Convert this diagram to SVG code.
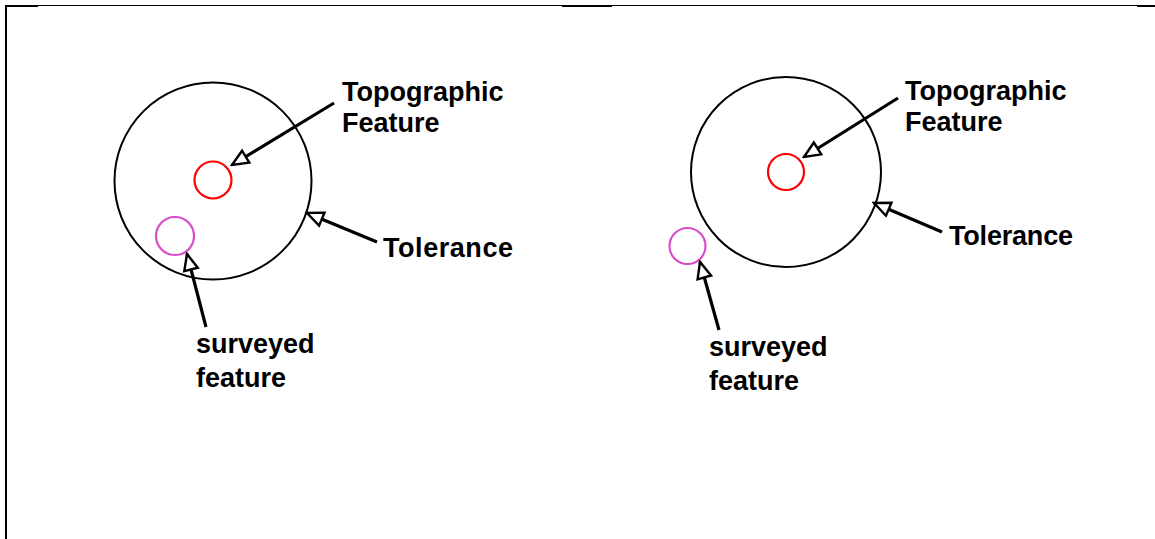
<svg xmlns="http://www.w3.org/2000/svg" width="1155" height="539" viewBox="0 0 1155 539">
<style>
.bg{fill:#ffffff}
.frame{stroke:#000;fill:none}
.tol{fill:none;stroke:#000;stroke-width:2}
.topo{fill:none;stroke:#ff0000;stroke-width:2.2}
.surv{fill:none;stroke:#d94cc8;stroke-width:2.2}
.lbl{font-family:"Liberation Sans",Arial,sans-serif;font-weight:bold;font-size:27px;fill:#000}
.arr{stroke:#000;stroke-width:3.2;fill:none;marker-end:url(#head)}
</style>
<defs>
<marker id="head" viewBox="0 0 20 18" refX="18" refY="9" markerWidth="20" markerHeight="18" markerUnits="userSpaceOnUse" orient="auto">
<path d="M2,2 L18,9 L2,16 Z" fill="#fff" stroke="#000" stroke-width="2.4" stroke-linejoin="miter"/>
</marker>
</defs>
<rect class="bg" x="0" y="0" width="1155" height="539"/>
<g id="frame">
<line class="frame" x1="5" y1="5.5" x2="1155" y2="5.5" stroke-width="1"/>
<line class="frame" x1="5" y1="6" x2="38" y2="6" stroke-width="2"/>
<line class="frame" x1="562" y1="6" x2="612" y2="6" stroke-width="2"/>
<line class="frame" x1="1137" y1="6" x2="1155" y2="6" stroke-width="2"/>
<line class="frame" x1="6" y1="5" x2="6" y2="539" stroke-width="2"/>
</g>
<g id="left-tolerance"><circle class="tol" cx="213" cy="181" r="98.5"/></g>
<g id="left-topographic"><circle class="topo" cx="213" cy="180" r="18.5"/></g>
<g id="left-surveyed"><circle class="surv" cx="175" cy="236" r="19"/></g>
<g id="right-tolerance"><circle class="tol" cx="786" cy="172" r="95"/></g>
<g id="right-topographic"><circle class="topo" cx="786" cy="172" r="18"/></g>
<g id="right-surveyed"><circle class="surv" cx="687.5" cy="246" r="18"/></g>
<g id="connectors">
<line class="arr" x1="334" y1="103" x2="232" y2="165"/>
<line class="arr" x1="377" y1="242" x2="307" y2="213"/>
<line class="arr" x1="206" y1="327" x2="187" y2="254"/>
<line class="arr" x1="898" y1="98" x2="804" y2="157"/>
<line class="arr" x1="942" y1="232" x2="874" y2="203"/>
<line class="arr" x1="719" y1="330" x2="700" y2="262"/>
</g>
<g id="labels">
<text class="lbl" x="342" y="101">Topographic</text>
<text class="lbl" x="342" y="132">Feature</text>
<text class="lbl" x="383" y="257" textLength="130">Tolerance</text>
<text class="lbl" x="196" y="353">surveyed</text>
<text class="lbl" x="196" y="387">feature</text>
<text class="lbl" x="905" y="100">Topographic</text>
<text class="lbl" x="905" y="131">Feature</text>
<text class="lbl" x="949" y="245" textLength="124">Tolerance</text>
<text class="lbl" x="709" y="356">surveyed</text>
<text class="lbl" x="709" y="390">feature</text>
</g>
</svg>
